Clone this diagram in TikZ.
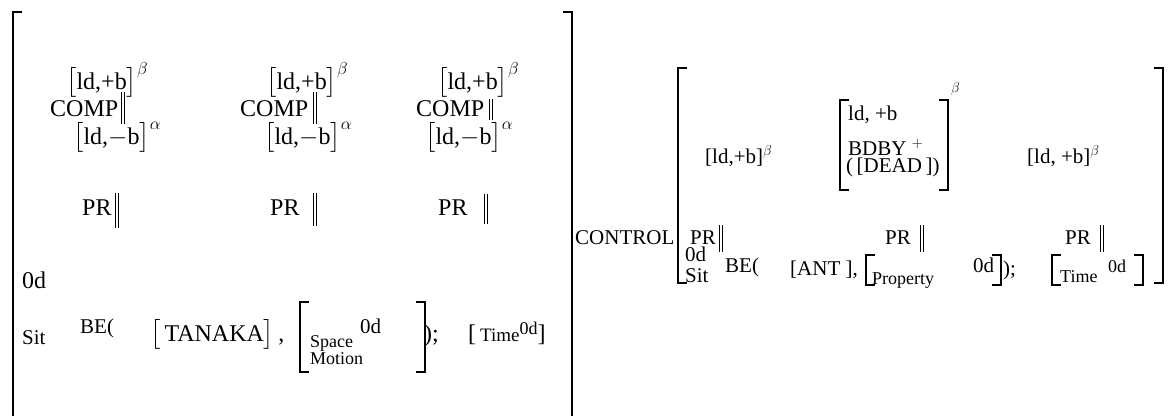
\documentclass[tikz,border=0pt]{standalone}
\usepackage{amsmath}
\usepackage{fontspec}
\setmainfont{Liberation Serif}

% brackets and double bars drawn as plain strokes
\newcommand{\openbr}[3]{\draw[brk] (#1+9,#2) -- (#1,#2) -- (#1,#3) -- (#1+9,#3);}
\newcommand{\closebr}[3]{\draw[brk] (#1-9,#2) -- (#1,#2) -- (#1,#3) -- (#1-9,#3);}
\newcommand{\dbar}[3]{\draw[bar] (#1,#2) -- (#1,#3); \draw[bar] (#1+3,#2) -- (#1+3,#3);}

\begin{document}
\begin{tikzpicture}[
				x=1pt, y=-1pt,
				line cap=butt,
				every node/.style={font=\fontsize{21}{24}\selectfont, inner sep=0pt, anchor=base west},
				big/.style={font=\fontsize{24}{28}\selectfont},
				small/.style={font=\fontsize{18}{20}\selectfont},
				brk/.style={line width=1.8pt},
				bar/.style={line width=1pt}
				]
				\useasboundingbox (0,0) rectangle (1169,415);
				
				% Outer brackets of the left structure
				\openbr{13}{12}{420}
				\closebr{572}{12}{420}
				
				% Three COMP columns
				\node[big] (ldpA) at (66,89) {$\bigl[$ld,+b$\bigr]^{\beta}$};
				\node[big] (compA) at (50,116) {COMP};
				\node[big] (ldmA) at (73,144) {$\bigl[$ld,$-$b$\bigr]^{\alpha}$};
				\dbar{121}{92}{124}
				
				\node[big] (ldpB) at (266,89) {$\bigl[$ld,+b$\bigr]^{\beta}$};
				\node[big] (compB) at (240,116) {COMP};
				\node[big] (ldmB) at (264,144) {$\bigl[$ld,$-$b$\bigr]^{\alpha}$};
				\dbar{313}{92}{124}
				
				\node[big] (ldpC) at (437,89) {$\bigl[$ld,+b$\bigr]^{\beta}$};
				\node[big] (compC) at (416,116) {COMP};
				\node[big] (ldmC) at (425,144) {$\bigl[$ld,$-$b$\bigr]^{\alpha}$};
				\dbar{489}{99}{120}
				
				% PR row
				\node[big] (prA) at (82,215) {PR};
				\dbar{115}{193}{228}
				\node[big] (prB) at (270,215) {PR};
				\dbar{313}{193}{226}
				\node[big] (prC) at (438,215) {PR};
				\dbar{484}{194}{224}
				
				% Situation line
				\node[big] (odA) at (22,288) {0d};
				\node (sitA) at (22,344) {Sit};
				\node (beA) at (80,333) {BE(};
				\node[big] (tanaka) at (150,341) {$\bigl[$\,TANAKA$\bigr]$\,,};
				\openbr{300}{302}{372}
				\node[small] (space) at (310,347) {Space};
				\node[small] (motion) at (310,364) {Motion};
				\node (odB) at (360,333) {0d};
				\closebr{425}{302}{372}
				\node[big] (semiA) at (424,341) {);};
				\node[big] (timeA) at (468,341) {[\,{\fontsize{19}{20}\selectfont Time}\raisebox{7pt}{\fontsize{18}{20}\selectfont 0d}]};
				
				% CONTROL and its bracketed argument
				\node (control) at (575,244) {CONTROL};
				\openbr{678}{68}{283}
				\closebr{1163}{68}{283}
				
				\node (ldpD) at (705,163) {[ld,+b]$^{\beta}$};
				\openbr{840}{100}{190}
				\node (ldpE) at (848,120) {ld, +b};
				\node (bdby) at (848,155) {BDBY $^{+}$};
				\node (dead) at (846,172) {(\,[DEAD\,])};
				\closebr{948}{100}{190}
				\node (betaE) at (951,100) {$^{\beta}$};
				\node (ldpF) at (1027,163) {[ld, +b]$^{\beta}$};
				
				\node (prD) at (690,244) {PR};
				\dbar{719}{225}{252}
				\node (prE) at (885,244) {PR};
				\dbar{920}{225}{252}
				\node (prF) at (1065,244) {PR};
				\dbar{1100}{225}{252}
				
				\node (odC) at (685,261) {0d};
				\node (sitB) at (685,282) {Sit};
				\node (beB) at (725,272) {BE(};
				\node (ant) at (790,275) {[ANT ],};
				\openbr{866}{255}{285}
				\node[small] (property) at (872,284) {Property};
				\node (odD) at (973,272) {0d};
				\closebr{1001}{255}{285}
				\node (semiB) at (1003,275) {);};
				\openbr{1052}{255}{285}
				\node[small] (timeB) at (1060,282) {Time};
				\node[small] (odE) at (1108,272) {0d};
				\closebr{1143}{255}{285}
			\end{tikzpicture}
\end{document}
